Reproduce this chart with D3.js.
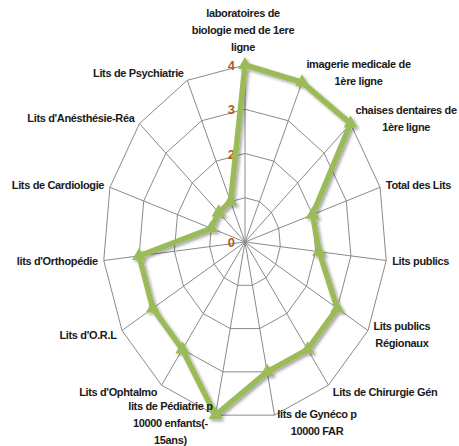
<!DOCTYPE html>
<html lang="fr">
<head>
<meta charset="UTF-8">
<title>Radar</title>
<script src="https://cdnjs.cloudflare.com/ajax/libs/d3/7.8.5/d3.min.js"></script>
<style>
  body { margin: 0; background: #fff; }
  svg { display: block; }
  .lbl { font-family: 'Liberation Sans', Arial, sans-serif; font-weight: bold; font-size: 11px; letter-spacing: -0.35px; fill: #1a1a1a; }
  .tick { font-family: 'Liberation Sans', Arial, sans-serif; font-weight: bold; font-size: 13px; fill: #b35d1e; }
</style>
</head>
<body>
<svg id="chart" width="459" height="446"></svg>
<script>
// categories (line breaks as in the original labels)
const categories = [
  ["laboratoires de", "biologie med de 1ere", "ligne"],
  ["imagerie medicale de", "1ère  ligne"],
  ["chaises dentaires de", "1ère ligne"],
  ["Total des Lits"],
  ["Lits publics"],
  ["Lits publics", "Régionaux"],
  ["Lits de Chirurgie Gén"],
  ["lits de Gynéco p", "10000 FAR"],
  ["lits de Pédiatrie p", "10000 enfants(-", "15ans)"],
  ["Lits d'Ophtalmo"],
  ["Lits d'O.R.L"],
  ["lits d'Orthopédie"],
  ["Lits de Cardiologie"],
  ["Lits d'Anésthésie-Réa"],
  ["Lits de Psychiatrie"]
];
const values = [4, 3.95, 4, 2, 2.1, 3, 3, 3, 4, 3, 3, 3, 1, 1, 1];
const ticks = [0, 1, 2, 3, 4];

const svg = d3.select("#chart");
const cx = 245, cy = 242;
const n = categories.length;

const ang = d3.scaleLinear().domain([0, n]).range([0, 2 * Math.PI]);
const rX = d3.scaleLinear().domain([0, 4]).range([0, 142]);
const rY = d3.scaleLinear().domain([0, 4]).range([0, 177]);
const px = (i, v) => cx + rX(v) * Math.sin(ang(i));
const py = (i, v) => cy - rY(v) * Math.cos(ang(i));

const defs = svg.append("defs");
const f = defs.append("filter").attr("id", "shadow")
  .attr("x", "-20%").attr("y", "-20%").attr("width", "140%").attr("height", "140%");
f.append("feDropShadow").attr("dx", 2).attr("dy", 2).attr("stdDeviation", 1.5)
  .attr("flood-color", "#000").attr("flood-opacity", 0.35);

// grid rings
const ring = d3.line().x(d => d[0]).y(d => d[1]).curve(d3.curveLinearClosed);
svg.append("g").selectAll("path")
  .data(ticks.filter(t => t > 0))
  .join("path")
  .attr("d", t => ring(d3.range(n).map(i => [px(i, t), py(i, t)])))
  .attr("fill", "none").attr("stroke", "#8a8a8a").attr("stroke-width", 1);

// spokes
svg.append("g").selectAll("line")
  .data(d3.range(n))
  .join("line")
  .attr("x1", cx).attr("y1", cy)
  .attr("x2", i => px(i, 4)).attr("y2", i => py(i, 4))
  .attr("stroke", "#8a8a8a").attr("stroke-width", 1);

// tick labels along first axis
svg.append("g").selectAll("text")
  .data(ticks)
  .join("text")
  .attr("class", "tick")
  .attr("x", t => px(0, t) - 10)
  .attr("y", t => py(0, t) + 5)
  .attr("text-anchor", "end")
  .text(t => t);

// series
const g = svg.append("g").attr("filter", "url(#shadow)");
g.append("path")
  .attr("d", ring(values.map((v, i) => [px(i, v), py(i, v)])))
  .attr("fill", "none").attr("stroke", "#9bbb59").attr("stroke-width", 5.5)
  .attr("stroke-linejoin", "miter");
g.selectAll(".mk")
  .data(values)
  .join("path")
  .attr("class", "mk")
  .attr("d", d3.symbol().type(d3.symbolTriangle).size(85))
  .attr("transform", (v, i) => `translate(${px(i, v)},${py(i, v)})`)
  .attr("fill", "#9bbb59");

// category labels
const lineH = 17;
categories.forEach((lines, i) => {
  const a = ang(i), s = Math.sin(a), c = Math.cos(a);
  const ox = px(i, 4), oy = py(i, 4);
  const t = svg.append("text").attr("class", "lbl").attr("text-anchor", "middle");
  const spans = lines.map((l, k) => t.append("tspan").text(l));
  const w = d3.max(spans, sp => sp.node().getComputedTextLength());
  const gap = 2 + 4 * Math.abs(s);
  let bx;
  if (s > 0.1) bx = ox + gap + w / 2;
  else if (s < -0.1) bx = ox - gap - w / 2;
  else bx = ox - 2;
  const h = lines.length * lineH;
  let top;
  if (Math.abs(s) < 0.1 && c > 0) top = oy - 10 - h;
  else top = oy - 8 * c - h / 2;
  spans.forEach((sp, k) => sp.attr("x", bx).attr("y", top + k * lineH + 12.5));
});
</script>
</body>
</html>
